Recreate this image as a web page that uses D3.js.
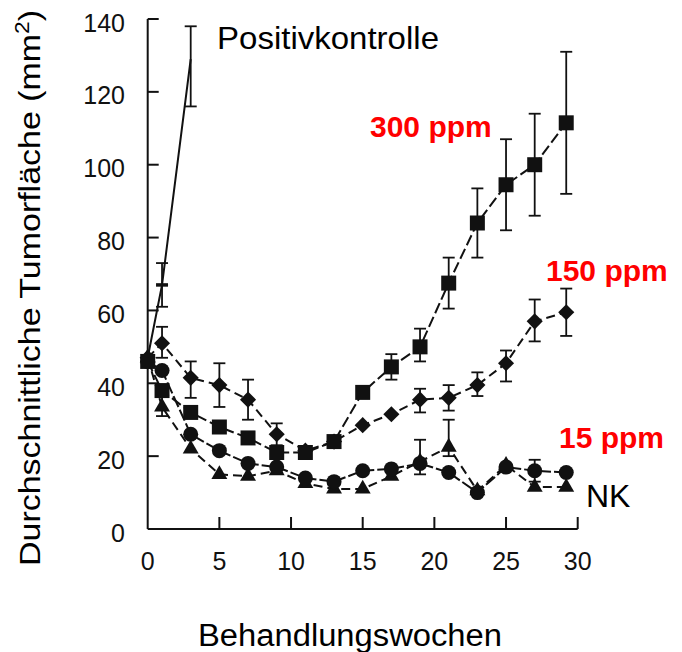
<!DOCTYPE html>
<html>
<head>
<meta charset="utf-8">
<script src="https://cdn.jsdelivr.net/npm/d3@7"></script>
<style>
  body { margin: 0; background: #fff; }
  svg { display: block; font-family: "Liberation Sans", Arial, sans-serif; }
</style>
</head>
<body>
<svg id="chart" width="682" height="652"></svg>
<script>
// weeks of treatment (x values shared by the four dose groups)
const weeks = [0, 1, 3, 5, 7, 9, 11, 13, 15, 17, 19, 21, 23, 25, 27, 29.2];

// mean tumour area (mm2) per group
const ppm300 = [46, 38, 32, 28, 25, 21, 21, 24, 37.5, 44.5, 50, 67.5, 84, 94.5, 100, 111.5];
const ppm150 = [47, 51, 41.5, 39.5, 35.5, 26, 21.5, 24, 28.5, 31.5, 35.5, 36, 39.5, 45.5, 57, 59.5];
const ppm15  = [46, 43.5, 26, 21.5, 18, 17, 14, 13, 16, 16.5, 18, 15.5, 10, 17, 16, 15.5];
const nk     = [47, 33.5, 22, 15, 14.5, 16, 12.5, 11, 11, 14.5, 18.5, 22.5, 10.5, 17.5, 11.5, 11.5];

// error bars [low, high], null where none is drawn
const ppm300Err = [null, null, null, null, null, null, null, null, null,
  [41, 48], [46, 55], [60.5, 74.5], [74.5, 93.5], [82, 107], [86, 114], [92, 131]];
const ppm150Err = [null, [47, 55.5], [36, 46], [33.5, 45.5], [30, 41], [23, 29], null, null, null,
  null, [32, 38.5], [32.5, 39.5], [36.5, 43], [40.5, 49], [51.5, 63], [53, 66]];
const ppm15Err = [null, null, null, null, null, null, null, null, null,
  null, [15, 24.5], null, null, null, [13, 19], null];
const nkErr = [null, [31, 36.5], null, null, null, null, null, null, null,
  null, null, [20, 30], null, null, null, null];

// positive control (only the first weeks)
const pkWeeks = [0, 1, 3];
const pkValues = [47, 67, 129];
const pkErr = [null, [61, 73], [116, 138]];

// axis ticks
const xTicks = [0, 5, 10, 15, 20, 25, 30];
const yTicks = [0, 20, 40, 60, 80, 100, 120, 140];

const Chart = {
    svg: d3.select('#chart'),
    x: d3.scaleLinear().domain([0, 30]).range([147.7, 577.7]),
    y: d3.scaleLinear().domain([0, 140]).range([529, 19]),

    render() {
        this.drawAxes();
        this.drawSeries(weeks, nk, nkErr, 'triangle', '9,5');
        this.drawSeries(weeks, ppm15, ppm15Err, 'circle', '12,3');
        this.drawSeries(weeks, ppm150, ppm150Err, 'diamond', '9,5');
        this.drawSeries(weeks, ppm300, ppm300Err, 'square', '11,4');
        this.drawSeries(pkWeeks, pkValues, pkErr, 'plus', null);
        this.drawLabels();
    },

    drawAxes() {
        const g = this.svg.append('g')
            .attr('stroke', '#111')
            .attr('stroke-width', 2);

        // y axis, ticks point inwards
        g.append('line')
            .attr('x1', this.x(0)).attr('x2', this.x(0))
            .attr('y1', this.y(140)).attr('y2', this.y(0));
        g.selectAll('.ytick')
            .data(yTicks.slice(1))
            .enter().append('line')
            .attr('x1', this.x(0)).attr('x2', this.x(0) + 11)
            .attr('y1', d => this.y(d)).attr('y2', d => this.y(d));

        // x axis
        g.append('line')
            .attr('x1', this.x(0)).attr('x2', this.x(30))
            .attr('y1', this.y(0)).attr('y2', this.y(0));
        g.selectAll('.xtick')
            .data(xTicks.slice(1))
            .enter().append('line')
            .attr('x1', d => this.x(d)).attr('x2', d => this.x(d))
            .attr('y1', this.y(0)).attr('y2', this.y(0) - 12);

        // tick labels
        this.svg.selectAll('.ylab')
            .data(yTicks)
            .enter().append('text')
            .attr('x', 125)
            .attr('y', d => this.y(d) + 12.5)
            .attr('text-anchor', 'end')
            .attr('font-size', 25)
            .attr('fill', '#111')
            .text(d => d);

        this.svg.selectAll('.xlab')
            .data(xTicks)
            .enter().append('text')
            .attr('x', d => this.x(d))
            .attr('y', 570)
            .attr('text-anchor', 'middle')
            .attr('font-size', 25)
            .attr('fill', '#111')
            .text(d => d);
    },

    drawSeries(xs, ys, errs, shape, dash) {
        const pts = xs.map((w, i) => ({ w, v: ys[i], e: errs[i] }));
        const g = this.svg.append('g');

        // connecting line
        g.append('path')
            .datum(pts)
            .attr('fill', 'none')
            .attr('stroke', '#111')
            .attr('stroke-width', 2)
            .attr('stroke-dasharray', dash)
            .attr('d', d3.line().x(d => this.x(d.w)).y(d => this.y(d.v)));

        // error bars
        const eb = g.selectAll('.err')
            .data(pts.filter(d => d.e))
            .enter().append('g')
            .attr('stroke', '#111')
            .attr('stroke-width', 1.8);
        eb.append('line')
            .attr('x1', d => this.x(d.w)).attr('x2', d => this.x(d.w))
            .attr('y1', d => this.y(d.e[0])).attr('y2', d => this.y(d.e[1]));
        [0, 1].forEach(k => {
            eb.append('line')
                .attr('x1', d => this.x(d.w) - 6).attr('x2', d => this.x(d.w) + 6)
                .attr('y1', d => this.y(d.e[k])).attr('y2', d => this.y(d.e[k]));
        });

        // markers
        const symbols = {
            square: d3.symbol(d3.symbolSquare, 225),
            circle: d3.symbol(d3.symbolCircle, 177),
            diamond: d3.symbol(d3.symbolSquare, 130),
            triangle: d3.symbol(d3.symbolTriangle, 110)
        };
        if (shape === 'plus') {
            g.selectAll('.mk')
                .data(pts.filter((d, i) => i === 1))
                .enter().append('line')
                .attr('x1', d => this.x(d.w) - 6).attr('x2', d => this.x(d.w) + 6)
                .attr('y1', d => this.y(d.v)).attr('y2', d => this.y(d.v))
                .attr('stroke', '#111')
                .attr('stroke-width', 3.5);
            return;
        }
        g.selectAll('.mk')
            .data(pts)
            .enter().append('path')
            .attr('d', symbols[shape])
            .attr('fill', '#111')
            .attr('transform', d => `translate(${this.x(d.w)},${this.y(d.v)})` +
                (shape === 'diamond' ? ' rotate(45)' : ''));
    },

    drawLabels() {
        const t = this.svg.append('g').attr('fill', '#000');

        t.append('text')
            .attr('x', 217).attr('y', 49)
            .attr('font-size', 32)
            .attr('textLength', 222).attr('lengthAdjust', 'spacingAndGlyphs')
            .text('Positivkontrolle');

        t.append('text')
            .attr('x', 586).attr('y', 507)
            .attr('font-size', 32)
            .text('NK');

        const red = [
            { label: '300 ppm', x: 370, y: 137 },
            { label: '150 ppm', x: 546, y: 281 },
            { label: '15 ppm', x: 559, y: 448 }
        ];
        t.selectAll('.dose')
            .data(red)
            .enter().append('text')
            .attr('x', d => d.x).attr('y', d => d.y)
            .attr('font-size', 30)
            .attr('font-weight', 'bold')
            .attr('fill', '#ff0000')
            .text(d => d.label);

        t.append('text')
            .attr('x', 198).attr('y', 646)
            .attr('font-size', 31)
            .attr('textLength', 304).attr('lengthAdjust', 'spacingAndGlyphs')
            .text('Behandlungswochen');

        const yl = t.append('text')
            .attr('transform', 'translate(40,288) rotate(-90)')
            .attr('text-anchor', 'middle')
            .attr('font-size', 30)
            .attr('textLength', 556).attr('lengthAdjust', 'spacingAndGlyphs');
        yl.append('tspan').text('Durchschnittliche Tumorfläche (mm');
        yl.append('tspan').attr('font-size', 20).attr('dy', -11).text('2');
        yl.append('tspan').attr('dy', 11).text(')');
    }
};

Chart.render();
</script>
</body>
</html>
